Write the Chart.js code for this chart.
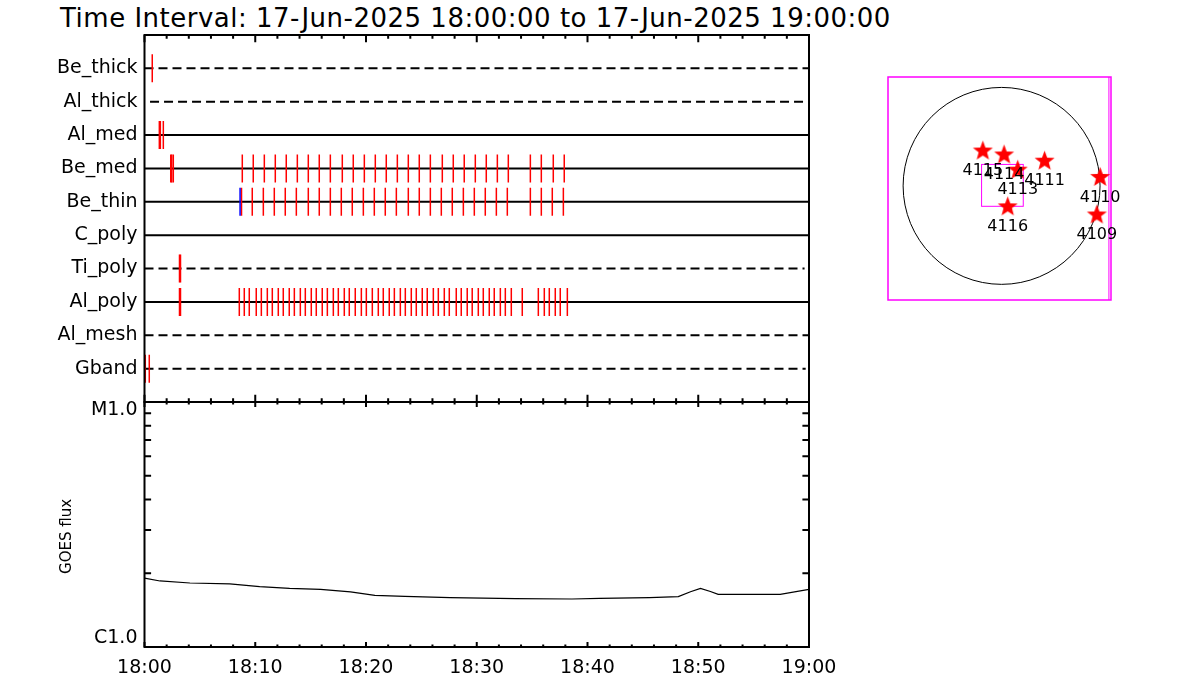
<!DOCTYPE html>
<html>
<head>
<meta charset="utf-8">
<script src="https://cdn.jsdelivr.net/npm/chart.js@4.4.1/dist/chart.umd.min.js"></script>
<style>
html,body{margin:0;padding:0;background:#fff;}
#wrap{position:relative;width:1200px;height:700px;overflow:hidden;}
canvas{position:absolute;left:0;top:0;}
#title{position:absolute;left:60px;top:2px;font-family:"DejaVu Sans",sans-serif;font-size:26px;letter-spacing:0.5px;line-height:32px;color:#000;white-space:nowrap;}
</style>
</head>
<body>
<div id="wrap">
<div id="title">Time Interval: 17-Jun-2025 18:00:00 to 17-Jun-2025 19:00:00</div>
<canvas id="rows" width="1200" height="700"></canvas>
<canvas id="goes" width="1200" height="700"></canvas>
<canvas id="sun" width="1200" height="700"></canvas>
</div>
<script>
// rows of the filter/event panel, top to bottom
const rowNames = ['Be_thick','Al_thick','Al_med','Be_med','Be_thin','C_poly','Ti_poly','Al_poly','Al_mesh','Gband'];
const rowDashed = [true,true,false,false,false,false,true,false,true,true];
const rowStart = [0,0.5,0,0,0,0,0,0,0,0];
const rowEnd = [60,60,60,60,60,60,59.6,60,60,59.7];

// event times, minutes after 18:00
const beThickT = [0.70];
const alMedT = [1.34,1.43,1.70];
const beMedT = [2.37,2.46,2.60,8.83,9.82,10.82,11.81,12.80,13.80,14.79,15.78,16.78,17.86,18.85,19.85,20.84,21.83,22.83,23.82,24.81,25.81,26.89,27.88,28.87,29.87,30.86,31.86,32.85,34.84,35.83,36.91,37.90];
const beThinT = [8.76,9.73,10.73,11.72,12.71,13.71,14.79,15.78,16.78,17.77,18.76,19.76,20.75,21.74,22.74,23.82,24.81,25.81,26.80,27.79,28.79,29.78,30.77,31.77,32.76,34.84,35.83,36.82,37.82];
const beThinBlueT = [8.63];
const tiPolyT = [3.16,3.25];
const alPolyT = [3.16,3.25,8.56,9.01,9.46,10.09,10.55,11.09,11.54,12.08,12.53,13.07,13.53,14.07,14.52,15.06,15.51,16.05,16.51,17.05,17.50,18.04,18.49,19.03,19.58,20.03,20.57,21.11,21.56,22.10,22.56,23.10,23.55,24.09,24.54,25.08,25.53,26.08,26.53,27.07,27.52,28.15,28.60,29.14,29.59,30.14,30.59,31.13,31.58,32.13,32.58,33.12,34.11,35.56,36.10,36.55,37.09,37.54,38.18];
const gbandT = [0.07,0.43];

// GOES flux curve
const goesMin = [0,1.4,4.1,7.7,10.4,13.1,15.9,18.6,20.8,23.5,27.6,33.5,38.6,41.1,45.6,48.2,49.3,50.2,51.1,51.8,57.4,60];
const goesFlux = [1.91e-6,1.86e-6,1.825e-6,1.81e-6,1.765e-6,1.735e-6,1.72e-6,1.68e-6,1.625e-6,1.61e-6,1.59e-6,1.575e-6,1.57e-6,1.58e-6,1.59e-6,1.605e-6,1.68e-6,1.735e-6,1.685e-6,1.64e-6,1.64e-6,1.72e-6];

// axis ticks
const timeTicks = [0,10,20,30,40,50,60];
const timeLabels = ['18:00','18:10','18:20','18:30','18:40','18:50','19:00'];
const timeMinor = [0,2,4,6,8,10,12,14,16,18,20,22,24,26,28,30,32,34,36,38,40,42,44,46,48,50,52,54,56,58,60];
const fluxTicks = [1e-6,1e-5];
const fluxLabels = [['C1.0',''],['','M1.0']];
const fluxMinor = [2e-6,3e-6,4e-6,5e-6,6e-6,7e-6,8e-6,9e-6];

// active regions on the disk (arcsec)
const arNum = ['4109','4110','4111','4113','4114','4115','4116'];
const arX = [914,946,413,155,24,-180,59];
const arY = [-278,81,236,150,295,333,-200];
const sunRadius = 945;
const fovCenter = [8,5];
const fovHalf = 200;

const FONT = "'DejaVu Sans', sans-serif";
Chart.defaults.font.family = FONT;
Chart.defaults.color = '#000';

const RED = '#ff0000', BLUE = '#0000ff';

function frameTicks(id, xLen, yLen){
  return {
    id: id,
    afterDraw(chart){
      const ctx = chart.ctx, a = chart.chartArea, xs = chart.scales.x, ys = chart.scales.y;
      ctx.save();
      ctx.strokeStyle = '#000';
      ctx.lineWidth = 2;
      ctx.strokeRect(a.left, a.top, a.right - a.left, a.bottom - a.top);
      ctx.beginPath();
      const xt = (vals, len) => vals.forEach(v => {
        const px = xs.getPixelForValue(v);
        ctx.moveTo(px, a.top); ctx.lineTo(px, a.top + len);
        ctx.moveTo(px, a.bottom); ctx.lineTo(px, a.bottom - len);
      });
      xt(timeMinor, xLen / 2);
      xt(timeTicks, xLen);
      if (yLen) {
        fluxMinor.forEach(v => {
          const py = ys.getPixelForValue(v);
          ctx.moveTo(a.left, py); ctx.lineTo(a.left + yLen, py);
          ctx.moveTo(a.right, py); ctx.lineTo(a.right - yLen, py);
        });
      }
      ctx.stroke();
      ctx.restore();
    }
  };
}

// ---- event panel ----
function tickSet(times, row, color, order){
  const r = rowNames.indexOf(row) + 1;
  return {
    type: 'scatter',
    data: times.map(t => ({x: t, y: r})),
    pointStyle: 'line',
    pointRotation: 90,
    pointRadius: 14,
    pointBorderWidth: 1.5,
    pointBorderColor: color,
    pointBackgroundColor: color,
    order: order
  };
}

const rowSets = rowNames.map((n, i) => ({
  type: 'line',
  data: [{x: rowStart[i], y: i + 1}, {x: rowEnd[i], y: i + 1}],
  borderColor: '#000',
  borderWidth: 2,
  borderDash: rowDashed[i] ? [9, 5] : [],
  pointRadius: 0,
  order: 2
}));

new Chart(document.getElementById('rows'), {
  type: 'scatter',
  data: {
    datasets: [
      tickSet(beThickT, 'Be_thick', RED, 1),
      tickSet(alMedT, 'Al_med', RED, 1),
      tickSet(beMedT, 'Be_med', RED, 1),
      tickSet(beThinT, 'Be_thin', RED, 1),
      tickSet(beThinBlueT, 'Be_thin', BLUE, 0),
      tickSet(tiPolyT, 'Ti_poly', RED, 1),
      tickSet(alPolyT, 'Al_poly', RED, 1),
      tickSet(gbandT, 'Gband', RED, 1)
    ].concat(rowSets)
  },
  options: {
    responsive: false,
    animation: false,
    events: [],
    layout: {padding: {left: 0, top: 35, right: 391, bottom: 298}},
    plugins: {legend: {display: false}, tooltip: {enabled: false}},
    scales: {
      x: {type: 'linear', min: 0, max: 60, display: false},
      y: {
        type: 'linear', min: 0, max: 11, reverse: true,
        afterFit: s => { s.width = 144.5; },
        afterBuildTicks: s => { s.ticks = rowNames.map((n, i) => ({value: i + 1})); },
        ticks: {callback: v => rowNames[v - 1], font: {size: 19}, padding: 7, autoSkip: false, color: '#000'},
        grid: {display: false, drawTicks: false, tickLength: 0},
        border: {display: false}
      }
    }
  },
  plugins: [frameTicks('frameRows', 7.3, 0)]
});

// ---- GOES panel ----
new Chart(document.getElementById('goes'), {
  type: 'line',
  data: {
    datasets: [{
      data: goesMin.map((m, i) => ({x: m, y: goesFlux[i]})),
      borderColor: '#000',
      borderWidth: 1.2,
      pointRadius: 0,
      tension: 0
    }]
  },
  options: {
    responsive: false,
    animation: false,
    events: [],
    layout: {padding: {left: 0, top: 402, right: 391, bottom: 0}},
    plugins: {legend: {display: false}, tooltip: {enabled: false}},
    scales: {
      x: {
        type: 'linear', min: 0, max: 60,
        afterFit: s => { s.height = 53; },
        afterBuildTicks: s => { s.ticks = timeTicks.map(v => ({value: v})); },
        ticks: {callback: (v, i) => timeLabels[i], font: {size: 19}, padding: 10, autoSkip: false, maxRotation: 0, color: '#000'},
        grid: {display: false, drawTicks: false, tickLength: 0},
        border: {display: false}
      },
      y: {
        type: 'logarithmic', min: 1e-6, max: 1e-5,
        afterFit: s => { s.width = 144.5; },
        afterBuildTicks: s => { s.ticks = fluxTicks.map(v => ({value: v})); },
        ticks: {callback: (v, i) => fluxLabels[i], font: {size: 19, lineHeight: 0.9}, padding: 7, autoSkip: false, color: '#000'},
        title: {display: true, text: 'GOES flux     ', font: {size: 15}, color: '#000', padding: {top: 58, bottom: 0}},
        grid: {display: false, drawTicks: false, tickLength: 0},
        border: {display: false}
      }
    }
  },
  plugins: [frameTicks('frameGoes', 4.9, 6.6)]
});

// ---- solar disk map ----
function makeStar(R, color){
  const c = document.createElement('canvas');
  const s = Math.ceil(R * 2 + 2);
  c.width = s; c.height = s;
  const g = c.getContext('2d');
  g.fillStyle = color;
  g.beginPath();
  for (let i = 0; i < 10; i++) {
    const r = i % 2 ? R * 0.42 : R;
    const ang = -Math.PI / 2 + i * Math.PI / 5;
    g.lineTo(s / 2 + r * Math.cos(ang), s / 2 + r * Math.sin(ang));
  }
  g.closePath();
  g.fill();
  return c;
}

const diskPlugin = {
  id: 'disk',
  beforeDatasetsDraw(chart){
    const ctx = chart.ctx, a = chart.chartArea, xs = chart.scales.x, ys = chart.scales.y;
    const cx = xs.getPixelForValue(0), cy = ys.getPixelForValue(0);
    const r = xs.getPixelForValue(sunRadius) - cx;
    ctx.save();
    ctx.strokeStyle = '#000';
    ctx.lineWidth = 1;
    ctx.beginPath();
    ctx.arc(cx, cy, r, 0, Math.PI * 2);
    ctx.stroke();
    ctx.strokeStyle = '#ff00ff';
    ctx.lineWidth = 1.5;
    ctx.strokeRect(a.left, a.top, a.right - a.left, a.bottom - a.top);
    ctx.lineWidth = 1;
    ctx.beginPath();
    const ex = xs.getPixelForValue(1030);
    ctx.moveTo(ex, a.top); ctx.lineTo(ex, a.bottom);
    ctx.stroke();
    const x0 = xs.getPixelForValue(fovCenter[0] - fovHalf), x1 = xs.getPixelForValue(fovCenter[0] + fovHalf);
    const y0 = ys.getPixelForValue(fovCenter[1] + fovHalf), y1 = ys.getPixelForValue(fovCenter[1] - fovHalf);
    ctx.strokeRect(x0, y0, x1 - x0, y1 - y0);
    ctx.restore();
  },
  afterDatasetsDraw(chart){
    const ctx = chart.ctx, xs = chart.scales.x, ys = chart.scales.y;
    ctx.save();
    ctx.fillStyle = '#000';
    ctx.font = '16px ' + FONT;
    ctx.textAlign = 'center';
    ctx.textBaseline = 'middle';
    arNum.forEach((n, i) => {
      ctx.fillText(n, xs.getPixelForValue(arX[i]), ys.getPixelForValue(arY[i]) + 20);
    });
    ctx.restore();
  }
};

new Chart(document.getElementById('sun'), {
  type: 'scatter',
  data: {
    datasets: [{
      data: arX.map((x, i) => ({x: x, y: arY[i]})),
      pointStyle: makeStar(10.5, RED),
      pointRadius: 11
    }]
  },
  options: {
    responsive: false,
    animation: false,
    events: [],
    layout: {padding: {left: 888, top: 77, right: 89, bottom: 400}},
    plugins: {legend: {display: false}, tooltip: {enabled: false}},
    scales: {
      x: {type: 'linear', min: -1090, max: 1050, display: false},
      y: {type: 'linear', min: -1090, max: 1040, display: false}
    }
  },
  plugins: [diskPlugin]
});
</script>
</body>
</html>
